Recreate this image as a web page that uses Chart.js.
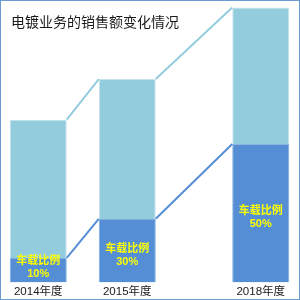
<!DOCTYPE html>
<html>
<head>
<meta charset="utf-8">
<script src="https://cdn.jsdelivr.net/npm/chart.js@4"></script>
<style>
  body { margin: 0; background: #fff; }
  #wrap { position: relative; width: 300px; height: 300px; box-sizing: border-box; border: 1px solid #6b9bd1; }
  #titulo { position: absolute; left: 10px; top: 11px; font: 14px "Noto Sans CJK SC", sans-serif; color: #1a1a1a; line-height: 18px; }
</style>
</head>
<body>
<div id="wrap">
  <canvas id="grafica" width="298" height="298"></canvas>
  <div id="titulo">电镀业务的销售额变化情况</div>
</div>
<script>
// Datos (valores relativos, 2014 = 100)
const categorias = ['2014年度', '', '2015年度', '', '', '2018年度'];
const ventasTotal = [100, null, 125, null, null, 169];
const ventasCoche = [15, null, 39, null, null, 85];
const etiquetaCoche = '车载比例';
const porcentajes = ['10%', null, '30%', null, null, '50%'];

const azulClaro = '#93cddd';
const azulOscuro = '#558ed5';

// Une las esquinas superiores de las barras con una linea
const lineasPlugin = {
  id: 'lineas',
  afterDatasetsDraw(chart) {
    const ctx = chart.ctx;
    chart.data.datasets.forEach((ds, d) => {
      const meta = chart.getDatasetMeta(d);
      const barras = meta.data.filter((b, i) => ds.data[i] !== null);
      ctx.save();
      ctx.strokeStyle = ds.lineColor;
      ctx.lineWidth = 2;
      for (let i = 0; i < barras.length - 1; i++) {
        const a = barras[i], b = barras[i + 1];
        ctx.beginPath();
        ctx.moveTo(a.x + a.width / 2, a.y);
        ctx.lineTo(b.x - b.width / 2, b.y);
        ctx.stroke();
      }
      ctx.restore();
    });

    // Textos dentro de la parte oscura
    const meta = chart.getDatasetMeta(0);
    ctx.save();
    ctx.fillStyle = '#ffff00';
    ctx.font = 'bold 11px "Liberation Sans", "Noto Sans CJK SC", sans-serif';
    ctx.textAlign = 'center';
    ctx.textBaseline = 'middle';
    meta.data.forEach((b, i) => {
      if (porcentajes[i] === null) return;
      const cy = (b.y + b.base) / 2;
      const y2 = Math.min(cy + 11, b.base - 8);
      ctx.fillText(etiquetaCoche, b.x, y2 - 13);
      ctx.fillText(porcentajes[i], b.x, y2);
    });
    ctx.restore();
  }
};

new Chart(document.getElementById('grafica'), {
  type: 'bar',
  data: {
    labels: categorias,
    datasets: [
      {
        label: '车载',
        data: ventasCoche,
        backgroundColor: azulOscuro,
        borderColor: '#8fb4e3',
        borderWidth: 1,
        clip: false,
        lineColor: azulOscuro
      },
      {
        label: '销售额',
        data: ventasTotal,
        backgroundColor: azulClaro,
        borderColor: '#c2e3ec',
        borderWidth: 1,
        clip: false,
        lineColor: azulClaro
      }
    ]
  },
  options: {
    responsive: false,
    animation: false,
    layout: { padding: { left: 15, right: 16, top: 0, bottom: -3 } },
    datasets: { bar: { categoryPercentage: 1, barPercentage: 1.28 } },
    plugins: { legend: { display: false }, tooltip: { enabled: false } },
    scales: {
      x: {
        stacked: true,
        grid: { display: false, drawTicks: false },
        border: { display: false },
        ticks: {
          color: '#1a1a1a',
          autoSkip: false,
          maxRotation: 0,
          padding: 3,
          font: { size: 11.5, family: '"Liberation Sans", "Noto Sans CJK SC", sans-serif' }
        }
      },
      y: {
        stacked: false,
        display: false,
        min: 0,
        max: 173
      }
    }
  },
  plugins: [lineasPlugin]
});
</script>
</body>
</html>
